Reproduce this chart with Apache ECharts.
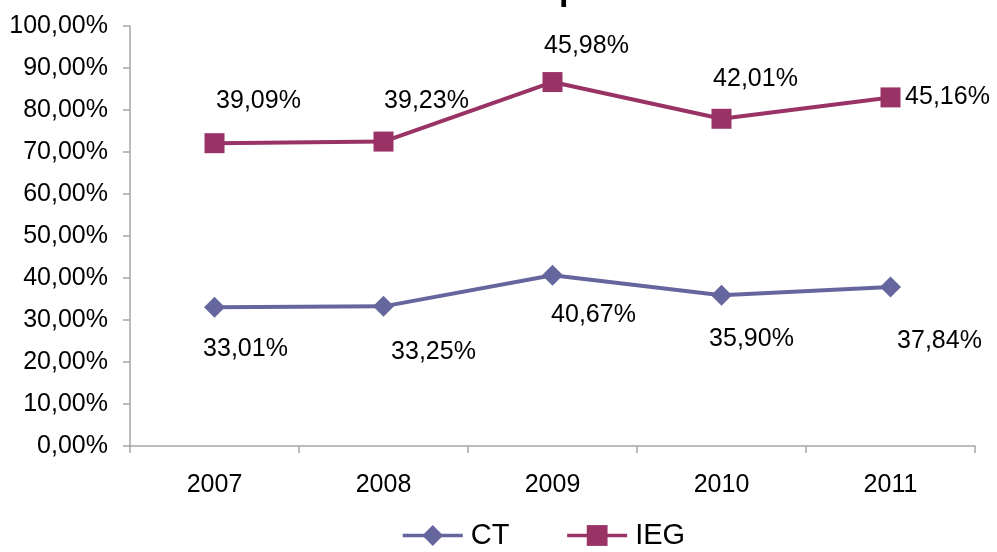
<!DOCTYPE html>
<html>
<head>
<meta charset="utf-8">
<script src="https://cdn.jsdelivr.net/npm/echarts@6/dist/echarts.min.js"></script>
<style>
  html, body { margin: 0; padding: 0; background: #fff; }
  #chart { width: 997px; height: 552px; }
</style>
</head>
<body>
<div id="chart"></div>
<script>
// Yearly shares, stacked: IEG is drawn on top of CT
var years = ['2007', '2008', '2009', '2010', '2011'];
var ctValues = [33.01, 33.25, 40.67, 35.90, 37.84];
var iegValues = [39.09, 39.23, 45.98, 42.01, 45.16];

// Hand-placed data label offsets (pixels from each marker)
var ctLabelOffsets = [[31, 42], [50, 46], [41, 40], [30, 44], [49, 54]];
var iegLabelOffsets = [[44, -42], [43, -40], [34, -36], [34, -40], [57, 0]];

var FONT = '"Liberation Sans", Arial, sans-serif';

function pct(v) {
  return v.toFixed(2).replace('.', ',') + '%';
}

function withOffsets(values, offsets) {
  return values.map(function (v, i) {
    return { value: v, label: { offset: offsets[i] } };
  });
}

var chart = echarts.init(document.getElementById('chart'), null, { renderer: 'canvas' });

chart.setOption({
  animation: false,
  backgroundColor: '#ffffff',
  title: {
    text: 'Cota da Compañía',
    left: 'center',
    top: -31.5,
    textStyle: { fontFamily: FONT, fontSize: 34, fontWeight: 'bold', color: '#000' }
  },
  grid: { left: 130, right: 22, top: 26, bottom: 106, containLabel: false },
  legend: {
    bottom: -3,
    left: 396,
    itemWidth: 60,
    itemHeight: 26,
    itemGap: 56,
    lineStyle: { width: 3.5 },
    textStyle: { fontFamily: FONT, fontSize: 29, color: '#000', padding: [0, 0, 0, 3] },
    data: ['CT', 'IEG']
  },
  xAxis: {
    type: 'category',
    data: years,
    boundaryGap: true,
    axisLine: { lineStyle: { color: '#a6a6a6', width: 1.5 } },
    axisTick: { show: true, length: 7, lineStyle: { color: '#a6a6a6', width: 1.5 } },
    axisLabel: { fontFamily: FONT, fontSize: 25, color: '#000', margin: 27 }
  },
  yAxis: {
    type: 'value',
    min: 0,
    max: 100,
    interval: 10,
    splitLine: { show: false },
    axisLine: { show: true, lineStyle: { color: '#a6a6a6', width: 1.5 } },
    axisTick: { show: true, length: 7, lineStyle: { color: '#a6a6a6', width: 1.5 } },
    axisLabel: {
      fontFamily: FONT, fontSize: 25, color: '#000', margin: 22,
      formatter: function (v) { return pct(v); }
    }
  },
  series: [
    {
      name: 'CT',
      type: 'line',
      stack: 'total',
      data: withOffsets(ctValues, ctLabelOffsets),
      symbol: 'diamond',
      symbolSize: 21,
      itemStyle: { color: '#66669e' },
      lineStyle: { color: '#66669e', width: 4 },
      label: {
        show: true,
        position: 'inside',
        fontFamily: FONT,
        fontSize: 25,
        color: '#000',
        formatter: function (p) { return pct(p.value); }
      }
    },
    {
      name: 'IEG',
      type: 'line',
      stack: 'total',
      data: withOffsets(iegValues, iegLabelOffsets),
      symbol: 'rect',
      symbolSize: 20,
      itemStyle: { color: '#993366' },
      lineStyle: { color: '#993366', width: 4 },
      label: {
        show: true,
        position: 'inside',
        fontFamily: FONT,
        fontSize: 25,
        color: '#000',
        formatter: function (p) { return pct(p.value); }
      }
    }
  ]
});
</script>
</body>
</html>
